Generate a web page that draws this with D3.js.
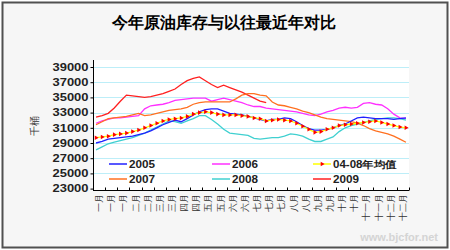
<!DOCTYPE html>
<html>
<head>
<meta charset="utf-8">
<script src="https://cdn.jsdelivr.net/npm/d3@7"></script>
<style>
body { margin: 0; background: #fff; }
text { font-family: "Liberation Sans", Arial, sans-serif; }
</style>
</head>
<body>
<script>
(function() {

	var width = 450,
		height = 250;

	// data, thousand barrels, weekly
	var yTicks = [23000, 25000, 27000, 29000, 31000, 33000, 35000, 37000, 39000];
	var monthLabels = ["一月","一月","一月","二月","二月","三月","三月","四月","四月","五月","五月","六月","六月",
		"七月","七月","七月","八月","八月","九月","九月","十月","十月","十一月","十一月","十二月","十二月"];
	var seriesNames = ["2005", "2006", "04-08年均值", "2007", "2008", "2009"];

	var s2005 = [29000,29200,29500,29600,29700,29800,29900,30100,30300,30600,31000,31400,31700,32000,31800,32200,
		32700,33100,33400,33500,33500,33200,32900,32800,32700,32500,32300,32100,31900,32100,32100,32300,
		32200,31800,31300,30900,30700,30700,30800,31000,31300,31500,31900,32300,32400,32300,32200,32200,
		32200,32100,32200,32300];
	var s2006 = [31600,31900,32100,32300,32300,32400,32500,32600,33500,33900,34000,34100,34300,34600,34700,34800,
		34900,34900,34900,34500,34700,34900,34700,34500,34300,34000,33800,33800,33600,33500,33400,33300,
		33200,33100,32900,32700,32600,32800,33100,33300,33600,33700,33600,33700,34200,34300,34100,34000,
		33500,32800,32300,32200];
	var s2007 = [31400,31800,32200,32300,32400,32500,32700,32900,32600,32700,32900,33100,33300,33400,33500,33700,
		34100,34300,34400,34400,34400,34400,34400,34800,35300,35500,35500,35300,35200,34400,34000,33900,
		33700,33500,33200,33000,32700,32400,32200,32100,32000,31900,31800,31600,31300,30900,30600,30400,
		30200,29900,29500,29100];
	var s2008 = [28100,28500,28900,29100,29300,29500,29700,30000,30300,30700,31100,31500,31900,31800,31600,31900,
		32200,32600,32600,32100,31500,30800,30300,30200,30100,30000,29600,29500,29600,29700,29700,29900,
		30200,30100,29900,29500,29200,29200,29500,29800,30500,31000,31300,31500,31700,31900,32100,32200,
		32300,32300,32200,32000];
	var s2009 = [32400,32600,32900,33600,34500,35300,35200,35100,35000,35100,35300,35500,35800,36100,36700,37200,
		37500,37700,37200,36700,36300,36600,36300,36000,35700,35300,34900,34500,34300];
	var sAvg = [29700,29800,29900,30100,30200,30300,30500,30700,31000,31300,31600,31900,32100,32200,32300,32500,
		32800,33000,33100,33000,32800,32700,32700,32700,32600,32500,32300,32200,31900,32000,32100,32000,
		31900,31600,31200,30800,30400,30500,30800,31000,31300,31400,31500,31600,31700,31800,31900,31700,
		31500,31300,31100,31000];

	// colors
	var colors = {
		"2005": "#2020ff",
		"2006": "#ff30ff",
		"04-08年均值": "#ffff00",
		"2007": "#ff7020",
		"2008": "#40d0d0",
		"2009": "#ff2020"
	};
	var markerColor = "#ff0000",
		gridColor = "#bdeef8",
		bgColor = "#f6f6f6";

	var plot = {left: 93, right: 409, top: 60, bottom: 190};

	var svg = d3.select("body").append("svg")
		.attr("width", width)
		.attr("height", height);

	// background + frame
	svg.append("rect")
		.attr("x", 2.5).attr("y", 2.5)
		.attr("width", width - 5).attr("height", height - 5)
		.attr("fill", bgColor)
		.attr("stroke", "#505050")
		.attr("stroke-width", 2);

	svg.append("rect")
		.attr("x", plot.left).attr("y", plot.top)
		.attr("width", plot.right - plot.left).attr("height", plot.bottom - plot.top)
		.attr("fill", "#ffffff");

	var weeks = d3.range(s2005.length);

	var x = d3.scaleBand()
		.domain(weeks)
		.range([plot.left, plot.right]);

	var y = d3.scaleLinear()
		.domain([23000, 39000])
		.range([188.6, 67]);

	// gridlines
	svg.append("g")
		.selectAll("line")
		.data(yTicks.slice(1))
		.enter()
		.append("line")
		.attr("x1", plot.left).attr("x2", plot.right)
		.attr("y1", function(d) { return Math.round(y(d)) + 0.5; })
		.attr("y2", function(d) { return Math.round(y(d)) + 0.5; })
		.attr("stroke", gridColor);

	// y axis
	var yAxis = svg.append("g")
		.attr("transform", "translate(" + (plot.left + 0.5) + ",0)")
		.call(d3.axisLeft(y).tickValues(yTicks).tickSize(3).tickFormat(d3.format("d")));
	yAxis.select(".domain").attr("d", "M0," + plot.top + "V" + plot.bottom).attr("stroke", "#000");
	yAxis.selectAll("text")
		.attr("x", -5)
		.attr("font-size", 10)
		.attr("font-weight", "bold")
		.attr("fill", "#222")
		.attr("textLength", 36)
		.attr("lengthAdjust", "spacingAndGlyphs");

	// x axis
	var xAxis = svg.append("g")
		.attr("transform", "translate(0," + (plot.bottom + 0.5) + ")");
	xAxis.append("line")
		.attr("x1", plot.left).attr("x2", plot.right)
		.attr("stroke", "#000");
	xAxis.selectAll(".tick")
		.data(weeks.filter(function(d) { return d % 2 === 0; }).concat([weeks.length]))
		.enter()
		.append("line")
		.attr("x1", function(d) { return Math.round(plot.left + d * x.step()) + 0.5; })
		.attr("x2", function(d) { return Math.round(plot.left + d * x.step()) + 0.5; })
		.attr("y1", 0).attr("y2", -3)
		.attr("stroke", "#000");

	xAxis.selectAll(".xlabel")
		.data(monthLabels)
		.enter()
		.append("text")
		.attr("class", "xlabel")
		.attr("transform", function(d, i) {
			return "translate(" + (x(i * 2) + x.bandwidth() + 3) + ",3) rotate(-90)";
		})
		.attr("text-anchor", "end")
		.attr("font-family", "Noto Sans CJK SC")
		.attr("font-size", 9)
		.attr("fill", "#333")
		.text(function(d) { return d; });

	// lines
	var line = d3.line()
		.x(function(d, i) { return x(i) + x.bandwidth() / 2; })
		.y(function(d) { return y(d); });

	var drawOrder = [["2009", s2009], ["2006", s2006], ["2007", s2007], ["2008", s2008], ["2005", s2005], ["04-08年均值", sAvg]];
	drawOrder.forEach(function(s) {
		svg.append("path")
			.datum(s[1])
			.attr("d", line)
			.attr("fill", "none")
			.attr("stroke", colors[s[0]])
			.attr("stroke-width", 1.3);
	});

	var tri = d3.symbol().type(d3.symbolTriangle).size(9);
	svg.append("g")
		.selectAll("path")
		.data(sAvg)
		.enter()
		.append("path")
		.attr("d", tri)
		.attr("transform", function(d, i) {
			return "translate(" + (x(i) + x.bandwidth() / 2) + "," + y(d) + ") rotate(90)";
		})
		.attr("fill", markerColor);

	// legend
	var legendPos = [[109, 164], [212, 164], [313, 164], [109, 179], [212, 179], [313, 179]];
	var legend = svg.append("g")
		.selectAll("g")
		.data(seriesNames)
		.enter()
		.append("g")
		.attr("transform", function(d, i) { return "translate(" + legendPos[i][0] + "," + legendPos[i][1] + ")"; });
	legend.append("line")
		.attr("x1", 0).attr("x2", 18)
		.attr("stroke", function(d) { return colors[d]; })
		.attr("stroke-width", 1.5);
	legend.filter(function(d) { return d === "04-08年均值"; })
		.append("path")
		.attr("d", tri)
		.attr("transform", "translate(9,0) rotate(90)")
		.attr("fill", markerColor);
	legend.append("text")
		.attr("x", 20)
		.attr("dy", "0.35em")
		.attr("font-size", 10)
		.attr("font-weight", "bold")
		.attr("fill", "#222")
		.attr("textLength", function(d) { return d === "04-08年均值" ? 64 : 26; })
		.attr("lengthAdjust", "spacingAndGlyphs")
		.text(function(d) { return d; });

	// titles
	svg.append("text")
		.attr("x", 224).attr("y", 28)
		.attr("text-anchor", "middle")
		.attr("font-family", "Noto Sans CJK SC")
		.attr("font-size", 16)
		.attr("font-weight", "bold")
		.attr("fill", "#000")
		.text("今年原油库存与以往最近年对比");

	svg.append("text")
		.attr("transform", "translate(38,126) rotate(-90)")
		.attr("text-anchor", "middle")
		.attr("font-family", "Noto Sans CJK SC")
		.attr("font-size", 10)
		.attr("fill", "#333")
		.text("千桶");

	svg.append("text")
		.attr("x", 438).attr("y", 241)
		.attr("text-anchor", "end")
		.attr("font-size", 11)
		.attr("font-weight", "bold")
		.attr("fill", "#d4d4d4")
		.text("www.bjcfor.net");

})();
</script>
</body>
</html>
